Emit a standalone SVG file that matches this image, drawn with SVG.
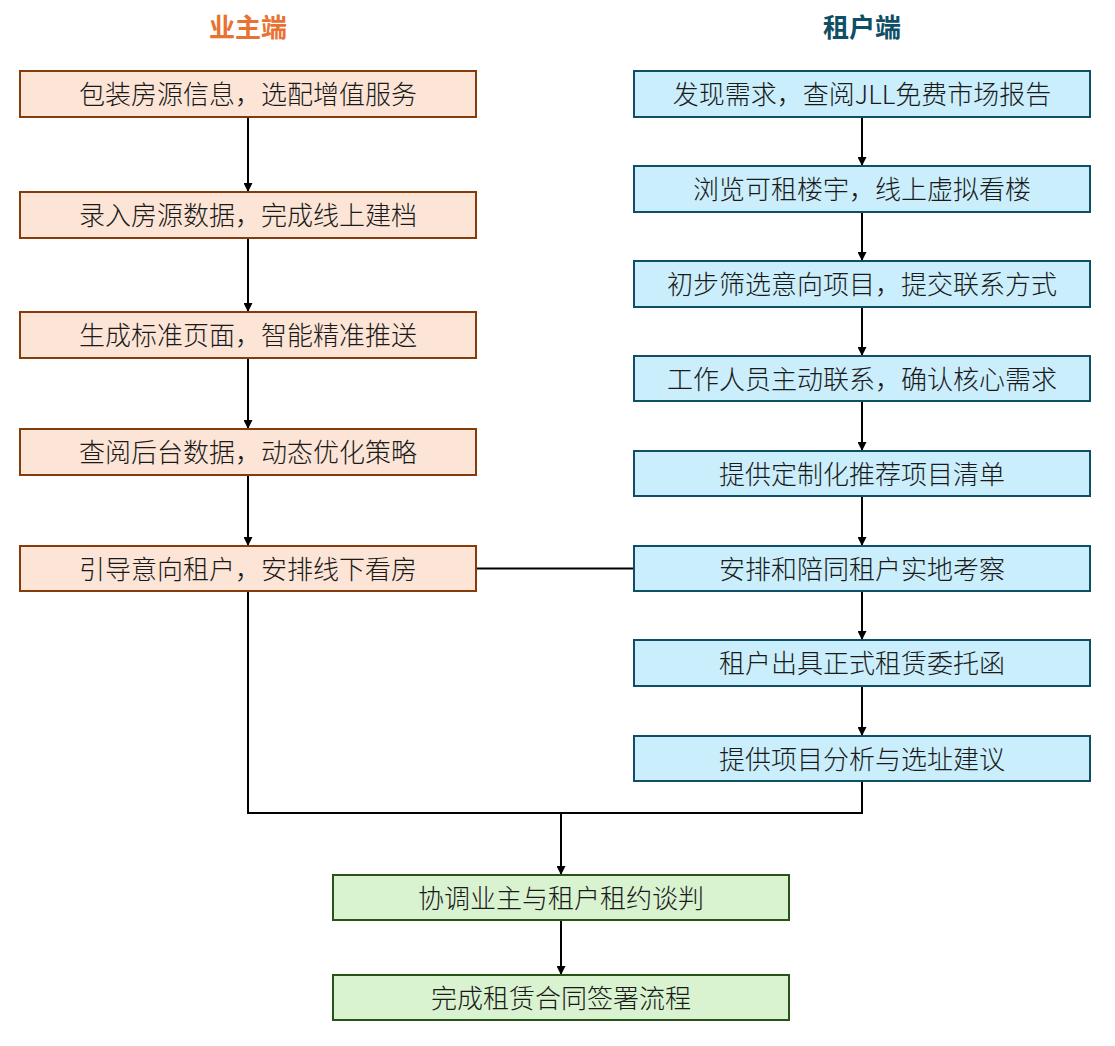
<svg xmlns="http://www.w3.org/2000/svg" width="1115" height="1046" viewBox="0 0 1115 1046">
<style>
.t{font-family:"Noto Sans CJK SC","Liberation Sans",sans-serif;font-size:26px;font-weight:300;fill:#1a1a1a;text-anchor:middle;dominant-baseline:central}
.h{font-family:"Noto Sans CJK SC","Liberation Sans",sans-serif;font-size:26px;font-weight:bold;text-anchor:middle;dominant-baseline:central}
.o{fill:#FCE4D6;stroke:#843C0C;stroke-width:2}
.r{fill:#CAEEFB;stroke:#0E4F66;stroke-width:2}
.g{fill:#D9F2D0;stroke:#275317;stroke-width:2}
.c{fill:none;stroke:#000;stroke-width:2}
</style>
<defs>
<marker id="a" viewBox="0 0 10 10" refX="10" refY="5" markerWidth="4.5" markerHeight="4.5" orient="auto" markerUnits="strokeWidth">
<path d="M0,0 L10,5 L0,10 z" fill="#000"/>
</marker>
</defs>
<rect width="1115" height="1046" fill="#fff"/>
<text class="h" x="248" y="25" fill="#E97132">业主端</text>
<text class="h" x="862" y="25" fill="#0E4F66">租户端</text>
<g id="connectors">
<line class="c" x1="248" y1="117" x2="248" y2="192" marker-end="url(#a)"/>
<line class="c" x1="248" y1="238" x2="248" y2="312" marker-end="url(#a)"/>
<line class="c" x1="248" y1="358" x2="248" y2="429" marker-end="url(#a)"/>
<line class="c" x1="248" y1="475" x2="248" y2="546" marker-end="url(#a)"/>
<line class="c" x1="862" y1="117" x2="862" y2="166" marker-end="url(#a)"/>
<line class="c" x1="862" y1="212" x2="862" y2="261" marker-end="url(#a)"/>
<line class="c" x1="862" y1="307" x2="862" y2="356" marker-end="url(#a)"/>
<line class="c" x1="862" y1="401" x2="862" y2="451" marker-end="url(#a)"/>
<line class="c" x1="862" y1="496" x2="862" y2="546" marker-end="url(#a)"/>
<line class="c" x1="862" y1="591" x2="862" y2="640" marker-end="url(#a)"/>
<line class="c" x1="862" y1="686" x2="862" y2="736" marker-end="url(#a)"/>
<line class="c" x1="476" y1="568.5" x2="634" y2="568.5"/>
<polyline class="c" points="248,591 248,813 862,813 862,781"/>
<line class="c" x1="561" y1="813" x2="561" y2="875" marker-end="url(#a)"/>
<line class="c" x1="561" y1="920" x2="561" y2="975" marker-end="url(#a)"/>
</g>
<g id="o1"><rect class="o" x="20" y="71" width="456" height="46"/><text class="t" x="248" y="92.5">包装房源信息，选配增值服务</text></g>
<g id="o2"><rect class="o" x="20" y="192" width="456" height="46"/><text class="t" x="248" y="213.5">录入房源数据，完成线上建档</text></g>
<g id="o3"><rect class="o" x="20" y="312" width="456" height="46"/><text class="t" x="248" y="333.5">生成标准页面，智能精准推送</text></g>
<g id="o4"><rect class="o" x="20" y="429" width="456" height="46"/><text class="t" x="248" y="450.5">查阅后台数据，动态优化策略</text></g>
<g id="o5"><rect class="o" x="20" y="546" width="456" height="45"/><text class="t" x="248" y="567">引导意向租户，安排线下看房</text></g>
<g id="r1"><rect class="r" x="634" y="71" width="456" height="46"/><text class="t" x="862" y="92.5">发现需求，查阅JLL免费市场报告</text></g>
<g id="r2"><rect class="r" x="634" y="166" width="456" height="46"/><text class="t" x="862" y="187.5">浏览可租楼宇，线上虚拟看楼</text></g>
<g id="r3"><rect class="r" x="634" y="261" width="456" height="46"/><text class="t" x="862" y="282.5">初步筛选意向项目，提交联系方式</text></g>
<g id="r4"><rect class="r" x="634" y="356" width="456" height="45"/><text class="t" x="862" y="377">工作人员主动联系，确认核心需求</text></g>
<g id="r5"><rect class="r" x="634" y="451" width="456" height="45"/><text class="t" x="862" y="472">提供定制化推荐项目清单</text></g>
<g id="r6"><rect class="r" x="634" y="546" width="456" height="45"/><text class="t" x="862" y="567">安排和陪同租户实地考察</text></g>
<g id="r7"><rect class="r" x="634" y="640" width="456" height="46"/><text class="t" x="862" y="661.5">租户出具正式租赁委托函</text></g>
<g id="r8"><rect class="r" x="634" y="736" width="456" height="45"/><text class="t" x="862" y="757">提供项目分析与选址建议</text></g>
<g id="g1"><rect class="g" x="333" y="875" width="456" height="45"/><text class="t" x="561" y="896">协调业主与租户租约谈判</text></g>
<g id="g2"><rect class="g" x="333" y="975" width="456" height="45"/><text class="t" x="561" y="996">完成租赁合同签署流程</text></g>
</svg>
